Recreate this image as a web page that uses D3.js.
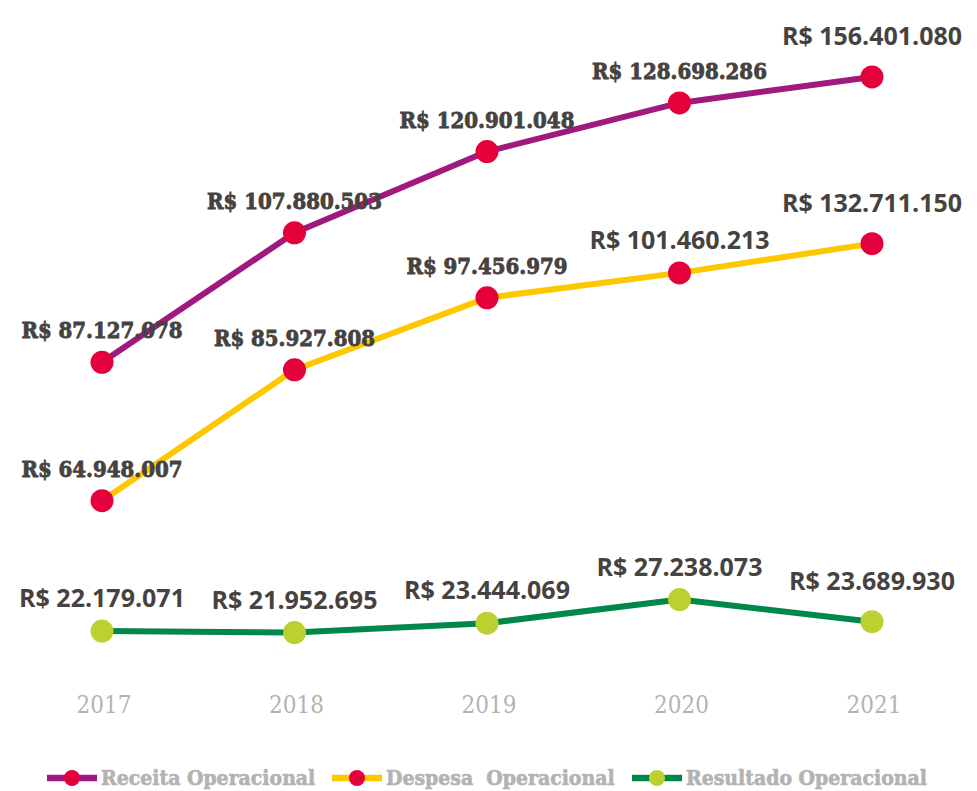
<!DOCTYPE html>
<html>
<head>
<meta charset="utf-8">
<script src="https://cdn.jsdelivr.net/npm/d3@7"></script>
<style>
  body { margin: 0; background: #fff; }
  .slab { font-family: "DejaVu Serif Condensed", "DejaVu Serif", serif; font-stretch: condensed; }
  .sans { font-family: "Open Sans", "Noto Sans", sans-serif; }
</style>
</head>
<body>
<svg id="chart" width="977" height="791"></svg>
<script>
var years = ["2017", "2018", "2019", "2020", "2021"];
var receita = [87127078, 107880503, 120901048, 128698286, 156401080];
var despesa = [64948007, 85927808, 97456979, 101460213, 132711150];
var resultado = [22179071, 21952695, 23444069, 27238073, 23689930];
var names = ["Receita Operacional", "Despesa  Operacional", "Resultado Operacional"];

// which value labels use the slab face in the original
var slabLabel = [[1, 1, 1, 1, 0], [1, 1, 1, 0, 0], [0, 0, 0, 0, 0]];

var svg = d3.select("#chart");
var brl = d3.formatLocale({decimal: ",", thousands: ".", grouping: [3], currency: ["R$ ", ""]}).format("$,");

var x = d3.scalePoint().domain(years).range([102, 872]);

// same px per real for all three; the result line sits on its own baseline
var yMain = d3.scaleLinear().domain([0, 100e6]).range([906, 282]);
var yRes = yMain.copy().range([769.5, 145.5]);

// the last step of the two upper series is drawn squeezed in the original
var squeeze = function(base, values) {
    var a = values[3], b = values[4];
    var ya = base(a);
    var step = (base(0) - base(b - a)) * 0.15;
    return d3.scaleLinear().domain([0, a, b]).range([base(0), ya, ya - step]);
};

var series = [
    {name: names[0], values: receita, y: squeeze(yMain, receita), line: "#a0197e", dot: "#e4003b"},
    {name: names[1], values: despesa, y: squeeze(yMain, despesa), line: "#fec800", dot: "#e4003b"},
    {name: names[2], values: resultado, y: yRes, line: "#00884a", dot: "#bcd030"}
];

// year labels
svg.append("g").selectAll("text").data(years).enter().append("text")
    .attr("class", "slab")
    .attr("x", function(d) { return x(d) + 2; })
    .attr("y", 713)
    .attr("text-anchor", "middle")
    .style("font-size", "24px")
    .style("fill", "#b3b3b3")
    .text(function(d) { return d; });

series.forEach(function(s, si) {
    var line = d3.line()
        .x(function(d, i) { return x(years[i]); })
        .y(function(d) { return s.y(d); });

    svg.append("path")
        .datum(s.values)
        .attr("d", line)
        .attr("fill", "none")
        .attr("stroke", s.line)
        .attr("stroke-width", 6)
        .attr("stroke-linejoin", "round");

    svg.append("g").selectAll("circle").data(s.values).enter().append("circle")
        .attr("cx", function(d, i) { return x(years[i]); })
        .attr("cy", function(d) { return s.y(d); })
        .attr("r", 11.5)
        .attr("fill", s.dot);
});

series.forEach(function(s, si) {
    svg.append("g").selectAll("text").data(s.values).enter().append("text")
        .attr("class", function(d, i) { return slabLabel[si][i] ? "slab" : "sans"; })
        .attr("x", function(d, i) { return x(years[i]); })
        .attr("y", function(d, i) { return s.y(d) - (i == 4 ? 32 : 24); })
        .attr("text-anchor", "middle")
        .style("font-size", function(d, i) { return slabLabel[si][i] ? "22px" : "25px"; })
        .style("font-weight", "bold")
        .style("fill", "#46423f")
        .style("stroke", function(d, i) { return slabLabel[si][i] ? "#46423f" : "none"; })
        .style("stroke-width", 0.8)
        .text(function(d) { return brl(d); });
});

// legend
var legendX = [47, 332, 632];
var legend = svg.append("g").selectAll("g").data(series).enter().append("g")
    .attr("transform", function(d, i) { return "translate(" + legendX[i] + ",778)"; });

legend.append("line")
    .attr("x1", 0).attr("x2", 50)
    .attr("stroke", function(d) { return d.line; })
    .attr("stroke-width", 6.5);
legend.append("circle")
    .attr("cx", 25).attr("r", 8)
    .attr("fill", function(d) { return d.dot; });
legend.append("text")
    .attr("class", "slab")
    .attr("x", 54).attr("y", 7)
    .style("font-size", "21px")
    .style("font-weight", "bold")
    .style("fill", "#b3b3b3")
    .style("stroke", "#b3b3b3")
    .style("stroke-width", 0.6)
    .style("white-space", "pre")
    .text(function(d) { return d.name; });
</script>
</body>
</html>
